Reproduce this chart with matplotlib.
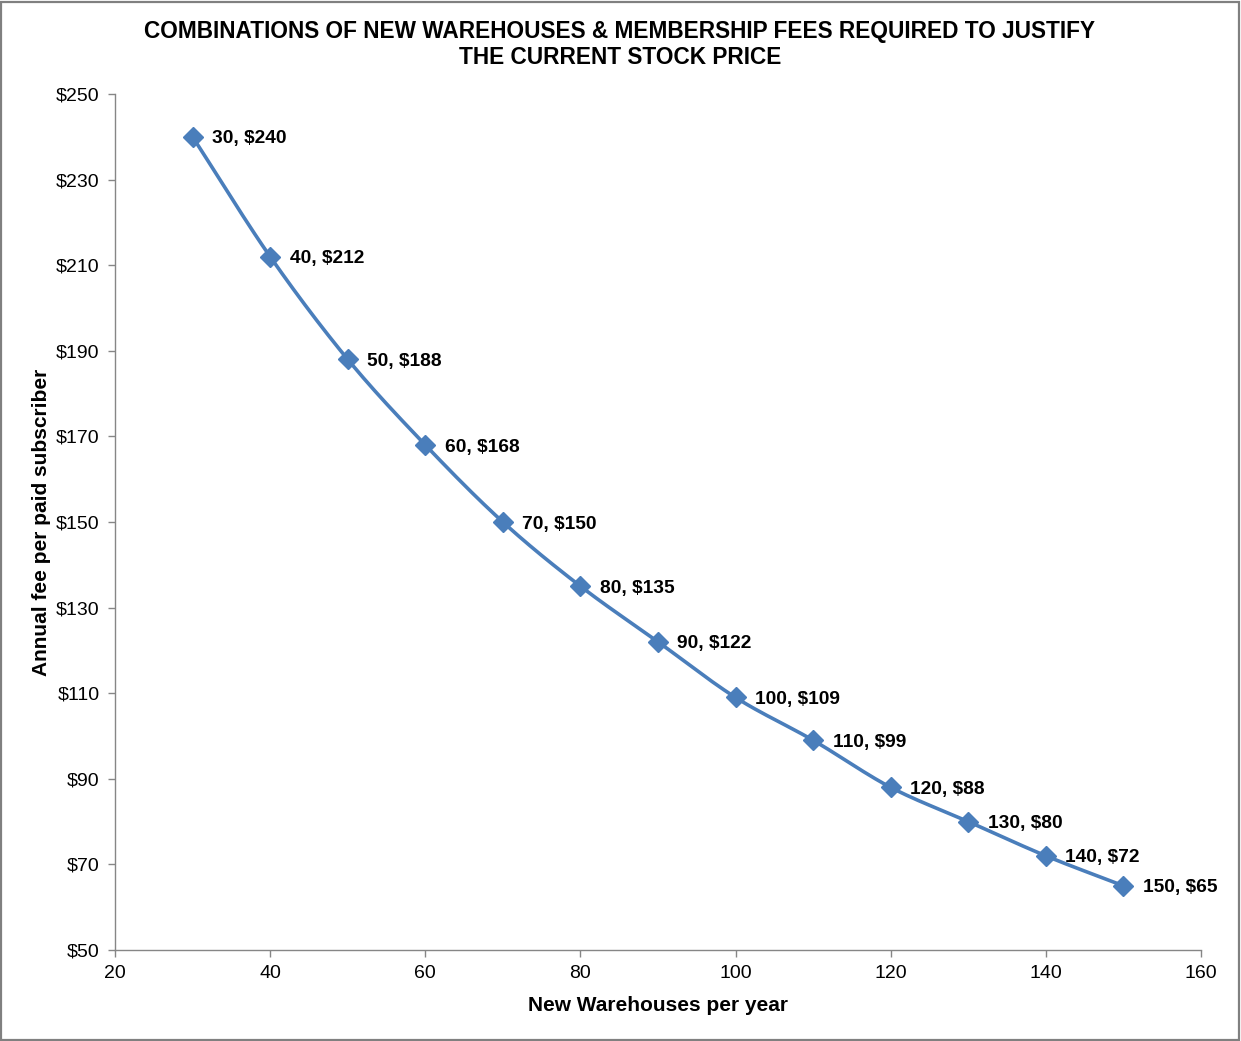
import numpy as np
import matplotlib
matplotlib.use("Agg")
import matplotlib.pyplot as plt
from matplotlib.patches import Rectangle

warehouses = [30, 40, 50, 60, 70, 80, 90, 100, 110, 120, 130, 140, 150]
fees = [240, 212, 188, 168, 150, 135, 122, 109, 99, 88, 80, 72, 65]
x_ticks = [20, 40, 60, 80, 100, 120, 140, 160]
y_ticks = [50, 70, 90, 110, 130, 150, 170, 190, 210, 230, 250]
title = "COMBINATIONS OF NEW WAREHOUSES & MEMBERSHIP FEES REQUIRED TO JUSTIFY\nTHE CURRENT STOCK PRICE"
x_label = "New Warehouses per year"
y_label = "Annual fee per paid subscriber"

plt.rcParams['font.family'] = ['Liberation Sans', 'DejaVu Sans']

def catmull_rom(xs, ys, n=20):
    xs = np.asarray(xs, float); ys = np.asarray(ys, float)
    px = np.concatenate([[2*xs[0]-xs[1]], xs, [2*xs[-1]-xs[-2]]])
    py = np.concatenate([[2*ys[0]-ys[1]], ys, [2*ys[-1]-ys[-2]]])
    ox, oy = [], []
    for i in range(1, len(px)-2):
        t = np.linspace(0, 1, n, endpoint=False)
        for P, out in ((px, ox), (py, oy)):
            p0, p1, p2, p3 = P[i-1], P[i], P[i+1], P[i+2]
            out.extend(0.5*((2*p1) + (-p0+p2)*t + (2*p0-5*p1+4*p2-p3)*t**2 + (-p0+3*p1-3*p2+p3)*t**3))
    ox.append(xs[-1]); oy.append(ys[-1])
    return np.array(ox), np.array(oy)

fig = plt.figure(figsize=(12.41, 10.41), dpi=100)
ax = fig.add_axes([115/1241, 1-950/1041, (1201-115)/1241, (950-94)/1041])

color = '#4a7ebb'
sx, sy = catmull_rom(warehouses, fees)
ax.plot(sx, sy, color=color, lw=2.6, solid_capstyle='round', zorder=2)
ax.plot(warehouses, fees, linestyle='none', marker='D', ms=10, color=color, zorder=3)

for xv, yv in zip(warehouses, fees):
    ax.annotate(f"{xv}, ${yv}", (xv, yv), xytext=(14, -1.5), textcoords='offset points',
                va='center', ha='left', fontsize=13.8, fontweight='bold')

ax.set_xlim(20, 160)
ax.set_ylim(50, 250)
ax.set_xticks(x_ticks)
ax.set_yticks(y_ticks)
ax.set_xticklabels([str(v) for v in x_ticks])
ax.set_yticklabels([f"${v}" for v in y_ticks])

for s in ['top', 'right']:
    ax.spines[s].set_visible(False)
for s in ['left', 'bottom']:
    ax.spines[s].set_color('#868686')
    ax.spines[s].set_linewidth(1.0)
ax.tick_params(axis='both', direction='out', length=5, width=1.0, color='#868686',
               labelsize=14, labelcolor='black', pad=6)

ax.set_xlabel(x_label, fontsize=15, fontweight='bold', labelpad=10)
ax.set_ylabel(y_label, fontsize=15, fontweight='bold', labelpad=4)

fig.text(620/1241, 1-44.5/1041, title, ha='center', va='center', fontsize=16.3,
         fontweight='bold', linespacing=1.2)

fig.patches.append(Rectangle((0.001, 0.001), 0.997, 0.997, transform=fig.transFigure,
                             fill=False, edgecolor='#808080', lw=1.6))

fig.savefig('out.png', dpi=100)
